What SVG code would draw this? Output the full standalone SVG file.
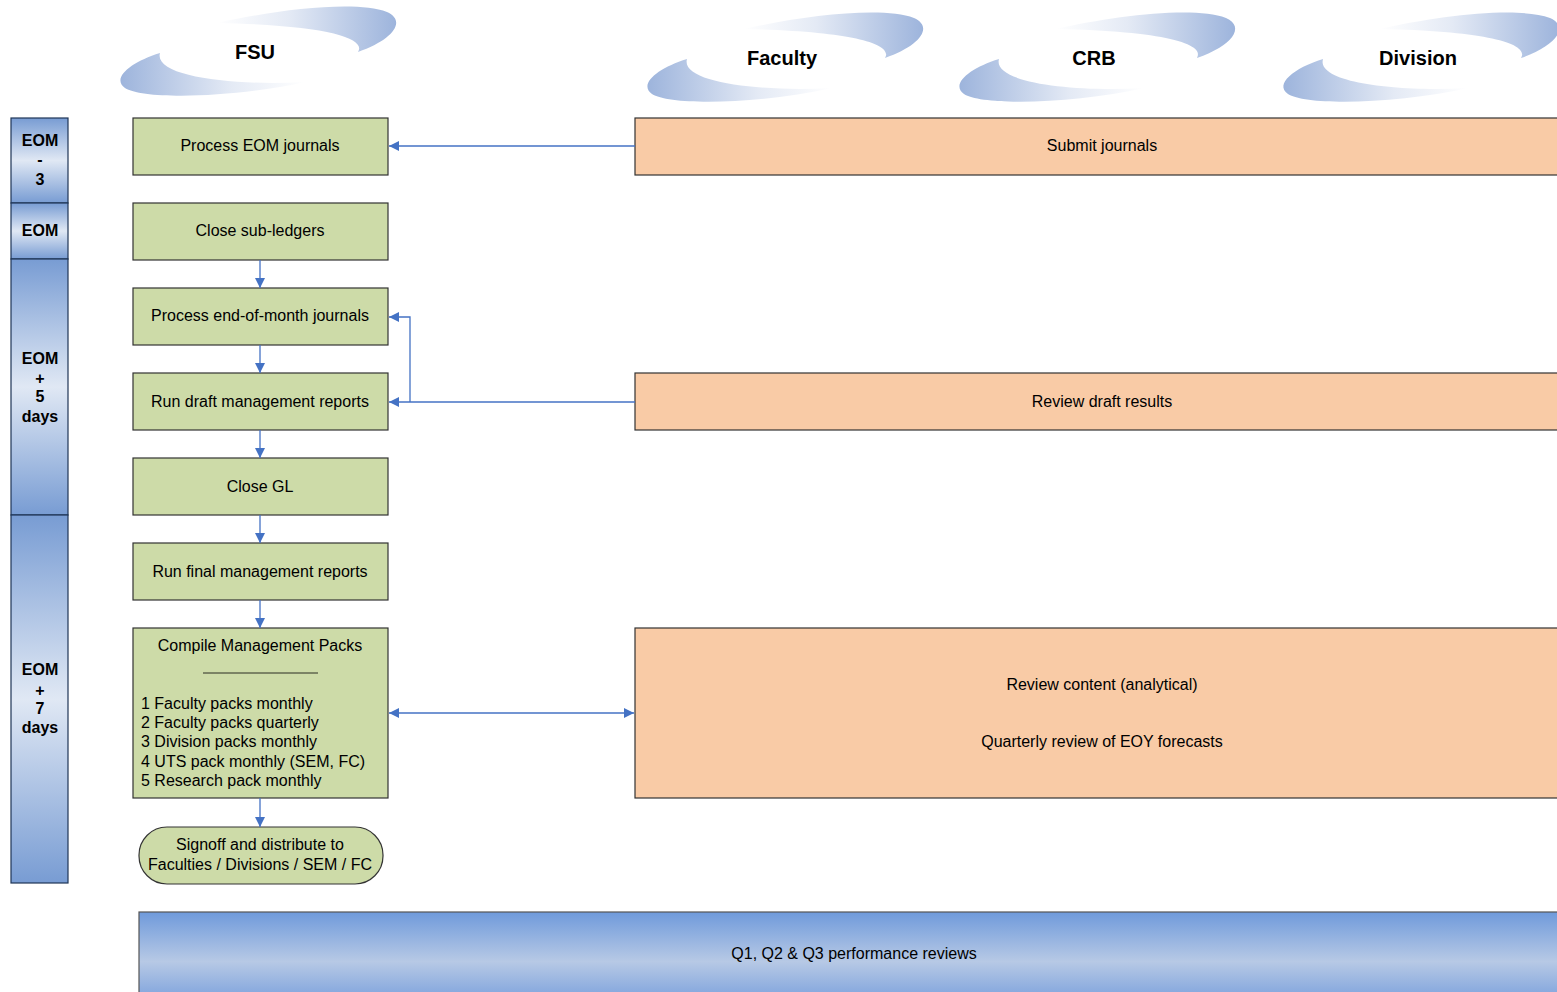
<svg xmlns="http://www.w3.org/2000/svg" width="1557" height="992" viewBox="0 0 1557 992">
<defs>
<linearGradient id="gUp" x1="0" y1="0" x2="1" y2="0"><stop offset="0" stop-color="#ffffff"/><stop offset="0.4" stop-color="#e4eaf5"/><stop offset="1" stop-color="#9db4dc"/></linearGradient>
<linearGradient id="gLo" x1="0" y1="0" x2="1" y2="0"><stop offset="0" stop-color="#9db4dc"/><stop offset="0.6" stop-color="#e4eaf5"/><stop offset="1" stop-color="#ffffff"/></linearGradient>
<linearGradient id="gBar" x1="0" y1="0" x2="0" y2="1"><stop offset="0" stop-color="#789cd3"/><stop offset="0.5" stop-color="#e0e8f4"/><stop offset="1" stop-color="#789cd3"/></linearGradient>
<linearGradient id="gBottom" x1="0" y1="0" x2="0" y2="1"><stop offset="0" stop-color="#6f9adb"/><stop offset="0.55" stop-color="#b7c9e5"/><stop offset="1" stop-color="#7aa0dc"/></linearGradient>
<g id="swoosh">
<path d="M -38,-29 C 20,-42 100,-52 132,-40 C 152,-31 138,-12 103,0 C 112,-14 70,-27 -38,-29 Z" fill="url(#gUp)"/>
<path d="M -95,1 C -124,10 -144,26 -130,36 C -112,48 -20,46 50,30 C -20,34 -102,25 -95,1 Z" fill="url(#gLo)"/>
</g>
<marker id="arr" viewBox="0 0 10 10" refX="10" refY="5" markerWidth="10" markerHeight="10" markerUnits="userSpaceOnUse" orient="auto-start-reverse"><path d="M0,0 L10,5 L0,10 Z" fill="#4472c4"/></marker>
</defs>
<style>
.t{font-family:"Liberation Sans",Arial,sans-serif;font-size:16px;fill:#000;text-anchor:middle}
.tl{font-family:"Liberation Sans",Arial,sans-serif;font-size:16px;fill:#000;text-anchor:start}
.h{font-family:"Liberation Sans",Arial,sans-serif;font-size:20px;font-weight:bold;fill:#000;text-anchor:middle}
.tb{font-family:"Liberation Sans",Arial,sans-serif;font-size:16px;font-weight:bold;fill:#000;text-anchor:middle}
.g{fill:#cddba8;stroke:#333;stroke-width:1.2}
.o{fill:#f9cba6;stroke:#333;stroke-width:1.2}
.bar{fill:url(#gBar);stroke:#1e3556;stroke-width:1.2}
.c{fill:none;stroke:#4472c4;stroke-width:1.3}
</style>
<rect width="1557" height="992" fill="#fff"/>

<g id="hdr-fsu"><use href="#swoosh" transform="translate(255,52)"/><text class="h" x="255" y="59">FSU</text></g>
<g id="hdr-faculty"><use href="#swoosh" transform="translate(782,58)"/><text class="h" x="782" y="65">Faculty</text></g>
<g id="hdr-crb"><use href="#swoosh" transform="translate(1094,58)"/><text class="h" x="1094" y="65">CRB</text></g>
<g id="hdr-division"><use href="#swoosh" transform="translate(1418,58)"/><text class="h" x="1418" y="65">Division</text></g>

<g id="tl-1"><rect class="bar" x="11" y="118" width="57" height="85"/><text class="tb" x="40" y="146">EOM</text><text class="tb" x="40" y="165">-</text><text class="tb" x="40" y="185">3</text></g>
<g id="tl-2"><rect class="bar" x="11" y="203" width="57" height="56"/><text class="tb" x="40" y="236">EOM</text></g>
<g id="tl-3"><rect class="bar" x="11" y="259" width="57" height="256"/><text class="tb" x="40" y="364">EOM</text><text class="tb" x="40" y="384">+</text><text class="tb" x="40" y="402">5</text><text class="tb" x="40" y="422">days</text></g>
<g id="tl-4"><rect class="bar" x="11" y="515" width="57" height="368"/><text class="tb" x="40" y="675">EOM</text><text class="tb" x="40" y="696">+</text><text class="tb" x="40" y="714">7</text><text class="tb" x="40" y="733">days</text></g>

<g id="n-process-eom"><rect class="g" x="133" y="118" width="255" height="57"/><text class="t" x="260" y="151">Process EOM journals</text></g>
<g id="n-close-sub"><rect class="g" x="133" y="203" width="255" height="57"/><text class="t" x="260" y="236">Close sub-ledgers</text></g>
<g id="n-process-eom-month"><rect class="g" x="133" y="288" width="255" height="57"/><text class="t" x="260" y="321">Process end-of-month journals</text></g>
<g id="n-run-draft"><rect class="g" x="133" y="373" width="255" height="57"/><text class="t" x="260" y="407">Run draft management reports</text></g>
<g id="n-close-gl"><rect class="g" x="133" y="458" width="255" height="57"/><text class="t" x="260" y="492">Close GL</text></g>
<g id="n-run-final"><rect class="g" x="133" y="543" width="255" height="57"/><text class="t" x="260" y="577">Run final management reports</text></g>
<g id="n-compile"><rect class="g" x="133" y="628" width="255" height="170"/>
<text class="t" x="260" y="651">Compile Management Packs</text>
<line x1="203" y1="673" x2="318" y2="673" stroke="#000" stroke-width="0.8"/>
<text class="tl" x="141" y="709">1 Faculty packs monthly</text>
<text class="tl" x="141" y="728">2 Faculty packs quarterly</text>
<text class="tl" x="141" y="747">3 Division packs monthly</text>
<text class="tl" x="141" y="767">4 UTS pack monthly (SEM, FC)</text>
<text class="tl" x="141" y="786">5 Research pack monthly</text></g>
<g id="n-signoff"><rect class="g" x="139" y="827" width="244" height="57" rx="28" ry="28"/><text class="t" x="260" y="850">Signoff and distribute to</text><text class="t" x="260" y="870">Faculties / Divisions / SEM / FC</text></g>

<g id="n-submit"><rect class="o" x="635" y="118" width="930" height="57"/><text class="t" x="1102" y="151">Submit journals</text></g>
<g id="n-review-draft"><rect class="o" x="635" y="373" width="930" height="57"/><text class="t" x="1102" y="407">Review draft results</text></g>
<g id="n-review-content"><rect class="o" x="635" y="628" width="930" height="170"/><text class="t" x="1102" y="690">Review content (analytical)</text><text class="t" x="1102" y="747">Quarterly review of EOY forecasts</text></g>

<g id="n-performance"><rect x="139" y="912" width="1430" height="90" fill="url(#gBottom)" stroke="#555" stroke-width="1.2"/><text class="t" x="854" y="959">Q1, Q2 &amp; Q3 performance reviews</text></g>

<g id="connectors">
<line class="c" x1="635" y1="146" x2="389" y2="146" marker-end="url(#arr)"/>
<line class="c" x1="260" y1="260" x2="260" y2="288" marker-end="url(#arr)"/>
<line class="c" x1="260" y1="345" x2="260" y2="373" marker-end="url(#arr)"/>
<line class="c" x1="260" y1="430" x2="260" y2="458" marker-end="url(#arr)"/>
<line class="c" x1="260" y1="515" x2="260" y2="543" marker-end="url(#arr)"/>
<line class="c" x1="260" y1="600" x2="260" y2="628" marker-end="url(#arr)"/>
<line class="c" x1="260" y1="798" x2="260" y2="827" marker-end="url(#arr)"/>
<line class="c" x1="635" y1="402" x2="389" y2="402" marker-end="url(#arr)"/>
<polyline class="c" points="410,402 410,317 389,317" marker-end="url(#arr)"/>
<line class="c" x1="389" y1="713" x2="634" y2="713" marker-start="url(#arr)" marker-end="url(#arr)"/>
</g>
</svg>
